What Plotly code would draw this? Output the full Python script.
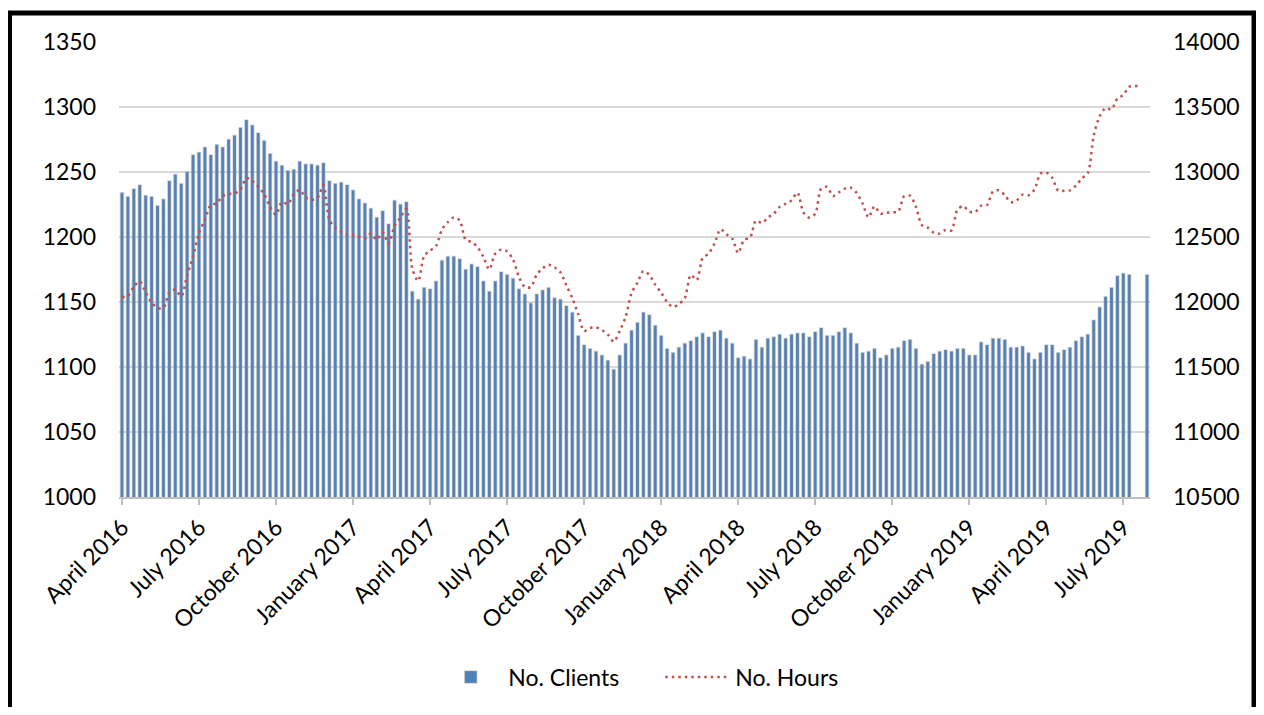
import plotly.graph_objects as go

# weekly values, April 2016 to August 2019 (None = no value that week)
clients = [
    1234, 1231, 1237, 1240, 1232, 1231, 1224, 1229, 1243, 1248, 1241, 1250, 1263,
    1265, 1269, 1263, 1271, 1269, 1275, 1278, 1284, 1290, 1286, 1280, 1274, 1264,
    1258, 1255, 1251, 1252, 1258, 1256, 1256, 1255, 1257, 1243, 1241, 1242, 1240,
    1236, 1229, 1226, 1222, 1215, 1220, 1210, 1228, 1225, 1227, 1158, 1152, 1161,
    1160, 1166, 1182, 1185, 1185, 1183, 1175, 1179, 1177, 1166, 1158, 1166, 1173,
    1171, 1168, 1160, 1156, 1149, 1156, 1159, 1161, 1153, 1152, 1147, 1142, 1124,
    1117, 1114, 1112, 1109, 1105, 1098, 1109, 1118, 1128, 1134, 1142, 1140, 1132,
    1124, 1114, 1111, 1115, 1118, 1120, 1123, 1126, 1123, 1127, 1128, 1122, 1118,
    1107, 1108, 1106, 1121, 1115, 1122, 1123, 1125, 1122, 1125, 1126, 1126, 1123,
    1127, 1130, 1124, 1124, 1127, 1130, 1126, 1118, 1111, 1112, 1114, 1107, 1109,
    1114, 1115, 1120, 1121, 1114, 1102, 1104, 1110, 1112, 1113, 1112, 1114, 1114,
    1109, 1109, 1119, 1117, 1122, 1122, 1121, 1115, 1115, 1116, 1111, 1106, 1111,
    1117, 1117, 1111, 1113, 1115, 1120, 1123, 1125, 1136, 1146, 1154, 1161, 1170,
    1172, 1171, None, None, 1171,
]

hours = [
    12038, 12046, 12118, 12159, 12074, 11997, 11954, 11956, 12074, 12095, 12044, 12205, 12351,
    12528, 12633, 12746, 12759, 12815, 12831, 12836, 12864, 12954, 12933, 12887, 12831, 12731,
    12672, 12769, 12754, 12828, 12862, 12803, 12787, 12800, 12900, 12630, 12572, 12538, 12518,
    12515, 12500, 12487, 12526, 12479, 12536, 12449, 12585, 12649, 12718, 12256, 12162, 12354,
    12395, 12431, 12556, 12615, 12651, 12628, 12479, 12462, 12423, 12346, 12251, 12372, 12403,
    12390, 12326, 12192, 12115, 12115, 12210, 12259, 12287, 12267, 12228, 12128, 12031, 11905,
    11777, 11800, 11805, 11785, 11749, 11695, 11777, 11885, 12069, 12149, 12238, 12208, 12133,
    12072, 12000, 11962, 11985, 12031, 12208, 12169, 12338, 12372, 12449, 12559, 12521, 12487,
    12377, 12479, 12495, 12626, 12608, 12649, 12679, 12731, 12756, 12782, 12841, 12690, 12649,
    12679, 12872, 12885, 12815, 12844, 12872, 12879, 12838, 12756, 12651, 12736, 12679, 12687,
    12690, 12695, 12813, 12818, 12731, 12592, 12572, 12533, 12526, 12554, 12551, 12710, 12738,
    12695, 12692, 12741, 12746, 12851, 12859, 12821, 12767, 12782, 12826, 12821, 12864, 12987,
    12995, 12956, 12856, 12856, 12859, 12895, 12951, 12992, 13279, 13428, 13492, 13482, 13567,
    13592, 13656, 13662, 13662, None,
]

weeks = list(range(len(clients)))

tick_weeks = [0, 13, 26, 39, 52, 65, 78, 91, 104, 117, 130, 143, 156, 169]
tick_labels = ['April 2016', 'July 2016', 'October 2016', 'January 2017', 'April 2017',
               'July 2017', 'October 2017', 'January 2018', 'April 2018', 'July 2018',
               'October 2018', 'January 2019', 'April 2019', 'July 2019']

FONT = 'Lato'
GRID = '#D9D9D9'


def build_figure() -> go.Figure:
    """bars for the clients on the left axis, dotted smooth line for the hours on the right"""
    fig = go.Figure()
    fig.add_trace(go.Bar(x=weeks, y=clients, name='No. Clients',
                         marker=dict(color='#4F81BD',
                                     line=dict(color='rgba(150,150,150,0.35)', width=1.5))))
    fig.add_trace(go.Scatter(x=weeks, y=hours, name='No. Hours', yaxis='y2', mode='lines',
                             line=dict(color='#C0504D', width=2.5, dash='2.5px,4px',
                                       shape='spline', smoothing=0.8)))

    # the page has an 8px body margin, so the figure is a little smaller than the window
    fig.update_layout(
        width=1248, height=699,
        margin=dict(l=111, r=106, t=34, b=210),
        paper_bgcolor='white', plot_bgcolor='white',
        font=dict(family=FONT, size=23, color='black'),
        bargap=0.5,
        showlegend=True,
        legend=dict(orientation='h', x=0.525, xanchor='center', xref='paper',
                    y=0.043, yanchor='middle', yref='container',
                    font=dict(size=23), itemwidth=65, entrywidth=147),
        xaxis=dict(range=[-0.5, 173.5], tickmode='array', tickvals=tick_weeks,
                   ticktext=tick_labels, tickangle=-45, showgrid=False, zeroline=False,
                   showline=True, linecolor='#BFBFBF', linewidth=1.5, automargin=False,
                   ticks='outside', ticklen=6, tickcolor='#BFBFBF', tickwidth=1.5),
        yaxis=dict(range=[1000, 1350], dtick=50, showgrid=True, gridcolor=GRID,
                   gridwidth=1.5, zeroline=False, ticklabelstandoff=22, automargin=False),
        yaxis2=dict(range=[10500, 14000], dtick=500, overlaying='y', side='right',
                    tickformat='d', showgrid=False, zeroline=False, ticklabelstandoff=22,
                    automargin=False),
    )

    # the black frame round the whole chart
    fig.add_shape(type='rect', xref='paper', yref='paper',
                  x0=-0.1062, x1=1.1009, y0=-0.52, y1=1.0637,
                  line=dict(color='black', width=5), fillcolor='rgba(0,0,0,0)')
    return fig


if __name__ == '__main__':
    figure = build_figure()
    figure.write_html('out.html')
